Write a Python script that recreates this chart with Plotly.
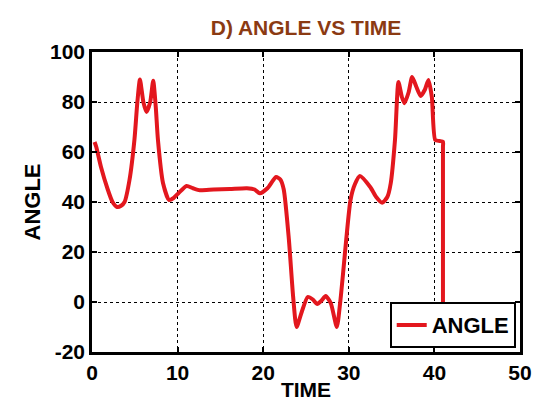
import plotly.graph_objects as go

# time / angle samples
time = [0.3, 0.5, 1.05, 1.84, 2.4, 2.93, 3.4, 3.8, 4.38, 4.96, 5.3, 5.6, 6.0, 6.37,
        6.8, 7.15, 7.45, 7.7, 8.3, 9.0, 9.5, 10.1, 11.05, 11.8, 12.6, 14.2, 16.1,
        18.1, 19.0, 19.6, 20.5, 21.5, 22.0, 22.4, 23.0, 23.5, 23.9, 24.5, 25.2,
        25.8, 26.3, 26.8, 27.3, 27.9, 28.6, 29.0, 29.4, 29.7, 30.2, 30.7, 31.3,
        32.5, 33.2, 33.9, 34.5, 34.9, 35.4, 35.8, 36.2, 36.5, 37.0, 37.4, 37.9,
        38.4, 38.9, 39.3, 39.7, 40.1, 40.6, 41.0, 41.0, 41.0]
angle = [64, 62, 54, 45, 40, 38, 38.5, 40, 48.8, 65, 80, 89, 80, 76,
         80, 88.5, 78, 65, 47.5, 40.8, 41.5, 43.5, 46.4, 45.5, 44.7, 45, 45.2,
         45.5, 45, 43.5, 45.5, 50, 49, 45, 25, 2, -10, -4, 2,
         1, -0.8, 0.5, 2.4, -0.5, -10, 0, 14, 25, 40.8, 47, 50.4,
         46, 42, 39.7, 42, 47.5, 65, 88, 82, 79.5, 84, 90, 86,
         82.4, 85, 88.8, 82, 64.8, 64.4, 64.1, 62, 0]

x_ticks = [0, 10, 20, 30, 40, 50]
y_ticks = [-20, 0, 20, 40, 60, 80, 100]
y_tick_labels = ["-20", "0", "20", "40", "60", "80", "100"]

FONT = "Liberation Sans, Arial, sans-serif"

fig = go.Figure()
fig.add_trace(
    go.Scatter(
        x=time,
        y=angle,
        mode="lines",
        name="ANGLE",
        line=dict(color="#e3171e", width=4, shape="spline", smoothing=0.6),
    )
)

axis_style = dict(
    showline=True,
    linecolor="black",
    linewidth=2.5,
    mirror="ticks",
    ticks="inside",
    ticklen=5,
    tickwidth=2,
    tickcolor="black",
    showgrid=True,
    gridcolor="black",
    gridwidth=1,
    griddash="dot",
    zeroline=False,
    tickfont=dict(family=FONT, size=21, color="black", weight="bold"),
)

fig.update_layout(
    width=548,
    height=413,
    paper_bgcolor="white",
    plot_bgcolor="white",
    margin=dict(l=92, r=28, t=52, b=61),
    title=dict(
        text="D) ANGLE VS TIME",
        x=0.5,
        xref="paper",
        y=0.932,
        yref="container",
        yanchor="middle",
        font=dict(family=FONT, size=21, color="#8b3a12", weight="bold"),
    ),
    xaxis=dict(
        range=[0, 50],
        tickvals=x_ticks,
        title=dict(text="TIME", standoff=0,
                   font=dict(family=FONT, size=21, color="black", weight="bold")),
        **axis_style,
    ),
    yaxis=dict(
        range=[-20, 100],
        tickvals=y_ticks,
        ticktext=y_tick_labels,
        title=dict(text="ANGLE", standoff=4,
                   font=dict(family=FONT, size=22, color="black", weight="bold")),
        **axis_style,
    ),
    legend=dict(
        x=0.99,
        y=0.013,
        xanchor="right",
        yanchor="bottom",
        bgcolor="white",
        bordercolor="black",
        borderwidth=2,
        font=dict(family=FONT, size=22, color="black", weight="bold"),
    ),
    showlegend=True,
)

# drop the page's default body margin so the figure sits at the window origin
fig.write_html(
    "out.html",
    config={"displayModeBar": False},
    post_script="document.body.style.margin='0';",
)
